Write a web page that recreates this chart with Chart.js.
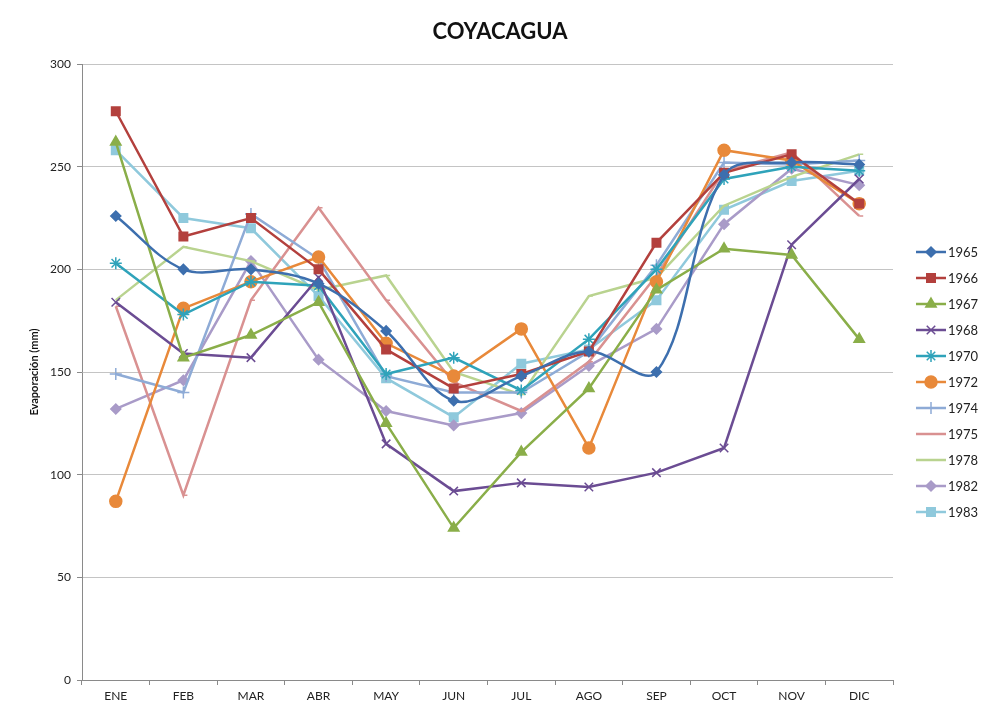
<!DOCTYPE html>
<html>
<head>
<meta charset="utf-8">
<title>COYACAGUA</title>
<script src="https://cdn.jsdelivr.net/npm/chart.js@4/dist/chart.umd.min.js"></script>
<style>
  body { margin: 0; background: #ffffff; }
  #grafico { display: block; }
</style>
</head>
<body>
<canvas id="grafico" width="982" height="715"></canvas>
<script>
// Meses (categorias)
const meses = ["ENE", "FEB", "MAR", "ABR", "MAY", "JUN", "JUL", "AGO", "SEP", "OCT", "NOV", "DIC"];

// Evaporacion mensual (mm) por año
const e1965 = [226, 200, 200, 193, 170, 136, 148, 160, 150, 246, 252, 251];
const e1966 = [277, 216, 225, 200, 161, 142, 149, 160, 213, 247, 256, 232];
const e1967 = [262, 157, 168, 184, 125, 74, 111, 142, 190, 210, 207, 166];
const e1968 = [184, 159, 157, 196, 115, 92, 96, 94, 101, 113, 212, 244];
const e1970 = [203, 178, 194, 192, 149, 157, 141, 166, 200, 244, 250, 248];
const e1972 = [87, 181, 194, 206, 164, 148, 171, 113, 194, 258, 253, 232];
const e1974 = [149, 140, 227, 205, 148, 140, 140, 160, 202, 252, 251, 253];
const e1975 = [182, 90, 185, 230, 185, 145, 131, 155, 197, 248, 257, 226];
const e1978 = [185, 211, 204, 190, 197, 150, 139, 187, 196, 231, 245, 256];
const e1982 = [132, 146, 204, 156, 131, 124, 130, 153, 171, 222, 249, 241];
const e1983 = [258, 225, 220, 187, 147, 128, 154, 161, 185, 229, 243, 248];

// Marcas de la escala vertical
const ticksY = [0, 50, 100, 150, 200, 250, 300];

const titulo = "COYACAGUA";

const series = [
  { label: "1965", data: e1965, color: "#3D6FAE", estilo: "rectRot", radio: 5, suave: true },
  { label: "1966", data: e1966, color: "#B3403D", estilo: "rect", radio: 6 },
  { label: "1967", data: e1967, color: "#8AAE49", estilo: "triangle", radio: 6 },
  { label: "1968", data: e1968, color: "#6B4C93", estilo: "crossRot", radio: 6 },
  { label: "1970", data: e1970, color: "#2FA3BA", estilo: "star", radio: 6 },
  { label: "1972", data: e1972, color: "#E8893A", estilo: "circle", radio: 6 },
  { label: "1974", data: e1974, color: "#8EABD6", estilo: "cross", radio: 6 },
  { label: "1975", data: e1975, color: "#D99191", estilo: "dash", radio: 4 },
  { label: "1978", data: e1978, color: "#B9D38F", estilo: "dash", radio: 4 },
  { label: "1982", data: e1982, color: "#A99BC8", estilo: "rectRot", radio: 5 },
  { label: "1983", data: e1983, color: "#8FC9DC", estilo: "rect", radio: 6 },
];

const fuente = "Lato, 'Open Sans', 'Liberation Sans', sans-serif";

// Titulo y leyenda dibujados a mano (linea + marcador, como en Excel)
const extrasExcel = {
  id: "extrasExcel",
  afterDraw(chart) {
    const ctx = chart.ctx;
    ctx.save();
    ctx.fillStyle = "#111";
    ctx.font = "bold 22px " + fuente;
    ctx.textAlign = "center";
    ctx.textBaseline = "middle";
    ctx.fillText(titulo, 500, 32);

    chart.data.datasets.forEach((ds, i) => {
      const y = 252 + i * 26;
      ctx.strokeStyle = ds.borderColor;
      ctx.fillStyle = ds.borderColor;
      ctx.lineWidth = 2.5;
      ctx.beginPath();
      ctx.moveTo(916, y);
      ctx.lineTo(946, y);
      ctx.stroke();
      ctx.lineWidth = 1.5;
      Chart.helpers.drawPoint(ctx, {
        pointStyle: ds.pointStyle,
        radius: ds.pointRadius,
        rotation: 0,
        borderWidth: 1.5,
      }, 931, y);
      ctx.fillStyle = "#222";
      ctx.font = "13px " + fuente;
      ctx.textBaseline = "middle";
      ctx.textAlign = "left";
      ctx.fillText(ds.label, 948, y + 1);
    });
    ctx.restore();
  },
};

new Chart(document.getElementById("grafico"), {
  type: "line",
  data: {
    labels: meses,
    datasets: series.map((s) => ({
      label: s.label,
      data: s.data,
      borderColor: s.color,
      backgroundColor: s.color,
      pointBackgroundColor: s.color,
      pointBorderColor: s.color,
      pointStyle: s.estilo,
      pointRadius: s.radio,
      pointBorderWidth: 1.5,
      borderWidth: 2.5,
      tension: s.suave ? 0.35 : 0,
      fill: false,
    })),
  },
  options: {
    responsive: false,
    animation: false,
    layout: { padding: { top: 64, right: 89, left: 28, bottom: 0 } },
    plugins: {
      legend: { display: false },
      tooltip: { enabled: false },
      title: { display: false },
    },
    scales: {
      x: {
        offset: true,
        grid: { offset: true, drawOnChartArea: false, drawTicks: true, tickLength: 5, color: "#8a8a8a" },
        border: { color: "#8a8a8a" },
        ticks: { color: "#222", font: { family: fuente, size: 12 }, padding: 4 },
        afterFit(s) { s.height = 35; },
      },
      y: {
        min: 0,
        max: 300,
        afterBuildTicks(s) { s.ticks = ticksY.map((v) => ({ value: v })); },
        grid: { color: "#c4c4c4", tickLength: 5, tickColor: "#8a8a8a" },
        border: { color: "#8a8a8a" },
        ticks: { color: "#222", font: { family: fuente, size: 12 }, padding: 6 },
        title: {
          display: true,
          text: "Evaporación (mm)",
          color: "#111",
          font: { family: fuente, size: 11, weight: "bold" },
          padding: { top: 0, bottom: 8 },
        },
        afterFit(s) { s.width = 54; },
      },
    },
  },
  plugins: [extrasExcel],
});
</script>
</body>
</html>
